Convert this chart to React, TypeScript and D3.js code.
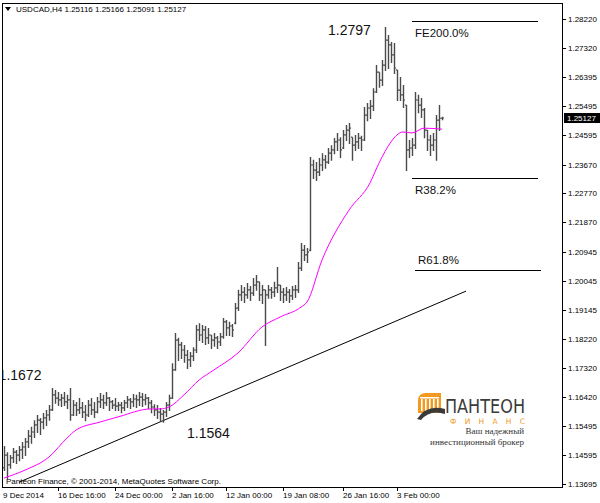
import * as d3 from "d3";

// USDCAD H4 bars (open = previous close)
const firstOpen = 1.142;
const highs = [
  1.1488, 1.1469, 1.146, 1.1482, 1.1476, 1.1488, 1.1501, 1.1513, 1.1538, 1.1548,
  1.1569, 1.1585, 1.1576, 1.1591, 1.1601, 1.1616, 1.1669, 1.1663, 1.1657, 1.1651,
  1.1657, 1.1648, 1.1669, 1.1632, 1.1626, 1.1638, 1.1626, 1.1616, 1.1632, 1.1638,
  1.1626, 1.1641, 1.1654, 1.1648, 1.1657, 1.1641, 1.1632, 1.1638, 1.1626, 1.1626,
  1.1632, 1.1644, 1.1638, 1.1651, 1.1648, 1.1657, 1.1654, 1.1651, 1.1641, 1.1632,
  1.1619, 1.1616, 1.1607, 1.1601, 1.1626, 1.1648, 1.1747, 1.1841, 1.1826, 1.1813,
  1.1804, 1.1788, 1.1782, 1.1797, 1.1866, 1.1872, 1.1866, 1.1863, 1.1857, 1.1835,
  1.1841, 1.1832, 1.1841, 1.1888, 1.1882, 1.1876, 1.1869, 1.1935, 1.1976, 1.1991,
  1.1985, 1.1997, 1.1988, 1.2013, 1.2022, 1.2001, 1.1991, 1.1976, 1.1991, 1.1985,
  1.2001, 1.2047, 1.1991, 1.1982, 1.1985, 1.1979, 1.1988, 1.1991, 1.2063, 1.2122,
  1.2116, 1.2107, 1.2391, 1.2382, 1.2375, 1.2388, 1.2403, 1.2397, 1.2419, 1.2428,
  1.245, 1.2466, 1.2453, 1.2475, 1.2491, 1.2497, 1.2453, 1.246, 1.2466, 1.2457,
  1.2547, 1.256, 1.2569, 1.2606, 1.2678, 1.2656, 1.2694, 1.2797, 1.2772, 1.275,
  1.2747, 1.2663, 1.2641, 1.2616, 1.2553, 1.2444, 1.245, 1.2594, 1.2585, 1.2575,
  1.2544, 1.2475, 1.246, 1.2466, 1.2522, 1.2553, 1.25166,
];
const lows = [
  1.1413, 1.1388, 1.142, 1.1438, 1.1435, 1.1444, 1.1451, 1.146, 1.1485, 1.1498,
  1.1516, 1.1532, 1.1526, 1.1544, 1.1554, 1.157, 1.1601, 1.1623, 1.1616, 1.1613,
  1.1616, 1.1607, 1.157, 1.1585, 1.1585, 1.1591, 1.1579, 1.1569, 1.1582, 1.1588,
  1.1579, 1.1594, 1.161, 1.1607, 1.1616, 1.1601, 1.1607, 1.1601, 1.1601, 1.1594,
  1.1601, 1.161, 1.1607, 1.1613, 1.161, 1.1616, 1.1613, 1.1619, 1.1607, 1.1594,
  1.1585, 1.1576, 1.1569, 1.1564, 1.1582, 1.1601, 1.1638, 1.1726, 1.1757, 1.1763,
  1.1751, 1.1732, 1.1738, 1.1757, 1.1782, 1.1819, 1.1813, 1.1807, 1.181, 1.1794,
  1.1801, 1.1794, 1.1804, 1.1826, 1.1835, 1.1835, 1.1832, 1.1872, 1.1913, 1.1944,
  1.1938, 1.1951, 1.1944, 1.196, 1.1976, 1.1944, 1.1935, 1.1804, 1.1951, 1.1951,
  1.1957, 1.1969, 1.1944, 1.1938, 1.1944, 1.1938, 1.1947, 1.1954, 1.1969, 1.2038,
  1.2069, 1.2063, 1.21, 1.2325, 1.2319, 1.2335, 1.235, 1.2357, 1.2372, 1.2382,
  1.2403, 1.2413, 1.2391, 1.2419, 1.2444, 1.2435, 1.2382, 1.2413, 1.2419, 1.2413,
  1.2444, 1.2506, 1.2513, 1.2538, 1.2594, 1.261, 1.2616, 1.2663, 1.2669, 1.2688,
  1.2653, 1.2569, 1.2569, 1.2547, 1.235, 1.2391, 1.2397, 1.2419, 1.2531, 1.2516,
  1.2453, 1.2413, 1.2397, 1.2413, 1.2382, 1.2475, 1.25091,
];
const closes = [
  1.146, 1.1429, 1.1451, 1.1469, 1.146, 1.1476, 1.1485, 1.1501, 1.1519, 1.1532,
  1.1554, 1.1569, 1.1563, 1.1576, 1.1585, 1.1601, 1.1648, 1.1638, 1.1632, 1.1638,
  1.1626, 1.1632, 1.1585, 1.1616, 1.1601, 1.1607, 1.1594, 1.1585, 1.1616, 1.1601,
  1.1594, 1.1626, 1.1632, 1.1623, 1.1638, 1.1626, 1.1616, 1.1613, 1.1616, 1.1607,
  1.1623, 1.1632, 1.1626, 1.1635, 1.1632, 1.1641, 1.1632, 1.1638, 1.1623, 1.161,
  1.1601, 1.1594, 1.1588, 1.1594, 1.1616, 1.1638, 1.1726, 1.1819, 1.1804, 1.1788,
  1.1772, 1.1757, 1.1769, 1.1788, 1.1851, 1.1835, 1.1851, 1.1826, 1.1835, 1.1819,
  1.1826, 1.1813, 1.1829, 1.1876, 1.1857, 1.1863, 1.1851, 1.1919, 1.196, 1.1969,
  1.196, 1.1976, 1.1966, 1.1991, 1.2001, 1.196, 1.1976, 1.196, 1.1976, 1.1969,
  1.1982, 1.1991, 1.1969, 1.196, 1.1969, 1.1957, 1.1976, 1.1976, 1.2044, 1.21,
  1.2085, 1.2094, 1.2366, 1.235, 1.2344, 1.2366, 1.2382, 1.2375, 1.2403, 1.2413,
  1.2438, 1.2444, 1.2413, 1.246, 1.2475, 1.2481, 1.2428, 1.2438, 1.245, 1.2444,
  1.2522, 1.2544, 1.255, 1.2594, 1.2656, 1.2631, 1.2678, 1.2756, 1.2741, 1.271,
  1.2669, 1.26, 1.2585, 1.2569, 1.2413, 1.2419, 1.2428, 1.2569, 1.2553, 1.2538,
  1.2475, 1.2444, 1.2428, 1.2444, 1.2506, 1.2512, 1.25127,
];

// moving average (magenta), read at a few bars
const maIndex = [0, 7, 15, 21, 24, 32, 38, 49, 52, 55, 60, 65, 70, 78, 86, 92, 99, 101, 106, 115, 122, 125, 129, 131, 133, 136, 140, 146];
const maValues = [
  1.1388, 1.1413, 1.1454, 1.1513, 1.1538, 1.1563, 1.1579, 1.1604, 1.1604, 1.161,
  1.1648, 1.1694, 1.1726, 1.1779, 1.186, 1.1891, 1.1922, 1.1938, 1.2069, 1.2225,
  1.231, 1.2372, 1.2438, 1.246, 1.2469, 1.2466, 1.2481, 1.2478,
];

// trend line anchors (bar index, price)
const trendIndex = [5, 154];
const trendPrice = [1.1375, 1.1972];

// fibonacci levels
const fibLabels = ["FE200.0%", "R38.2%", "R61.8%"];
const fibLevels = [1.2816, 1.2325, 1.2038];
const fibStart = [136, 136, 137];
const fibEnd = [178, 178, 179];
const fibLabelBelow = [true, true, false];

// price notes
const noteText = ["1.2797", "1.1672", "1.1564"];
const noteIndex = [108, -1.8, 61];
const notePrice = [1.2797, 1.1672, 1.1564];

const priceTicks = [
  1.2822, 1.2732, 1.26395, 1.25495, 1.24595, 1.2367, 1.2277, 1.2187, 1.20945,
  1.20045, 1.19145, 1.1822, 1.1732, 1.1642, 1.15495, 1.14595, 1.13695,
];
const dateLabels = ["9 Dec 2014", "16 Dec 16:00", "24 Dec 00:00", "2 Jan 16:00", "12 Jan 00:00", "19 Jan 08:00", "26 Jan 16:00", "3 Feb 00:00"];
const dateIndex = [0, 18, 37, 56, 74, 93, 113, 131];

const W = 600;
const H = 503;
const frame = { left: 2.5, top: 3.5, right: 562.5, bottom: 487.5 };
const font = "'Liberation Sans', Arial, sans-serif";

export default function App() {
  const n = closes.length;
  const x = d3.scaleLinear().domain([0, n - 1]).range([4, 4 + 3 * (n - 1)]);
  const y = d3.scaleLinear().domain([1.13695, 1.2822]).range([484, 19]);

  const maLine = d3
    .line<number>()
    .x((_, i) => x(maIndex[i]))
    .y((d) => y(d))
    .curve(d3.curveMonotoneX);

  const last = closes[n - 1];

  return (
    <svg width={W} height={H} style={{ position: "absolute", left: 0, top: 0, display: "block" }}>
      <defs>
        <clipPath id="plot">
          <rect x={frame.left} y={frame.top} width={frame.right - frame.left} height={frame.bottom - frame.top} />
        </clipPath>
      </defs>
      <rect width={W} height={H} fill="#fff" />
      <rect
        x={frame.left}
        y={frame.top}
        width={frame.right - frame.left}
        height={frame.bottom - frame.top}
        fill="#fff"
        stroke="#000"
      />

      <g clipPath="url(#plot)">
        {/* logo */}
        <g>
          <path d="M418,413 L418,401 Q418,393 426,393 L441,393 L441,413 Z" fill="#F29A1F" />
          {[421, 425, 429, 433, 437].map((cx) => (
            <rect key={cx} x={cx} y={399} width={1.6} height={12} fill="#fff" />
          ))}
          <rect x={420} y={397} width={19} height={1.5} fill="#fff" />
          <path d="M417,419 Q427,404 445,409 L445,414 Q430,409 421,420 Z" fill="#3a3a3a" />
          <text x={445} y={413} fontFamily="'DejaVu Sans', sans-serif" fontSize={19} fill="#3b3b3b" textLength={80} lengthAdjust="spacingAndGlyphs">
            ПАНТЕОН
          </text>
          <text x={450} y={424} fontFamily="'DejaVu Sans', sans-serif" fontSize={7.5} fill="#F29A1F" textLength={75} lengthAdjust="spacing">
            ФИНАНС
          </text>
          <text x={524} y={434} textAnchor="end" fontFamily="'Liberation Serif', serif" fontSize={9} fill="#333">
            Ваш надежный
          </text>
          <text x={524} y={444.5} textAnchor="end" fontFamily="'Liberation Serif', serif" fontSize={9} fill="#333">
            инвестиционный брокер
          </text>
        </g>

        {/* trend line */}
        <line
          x1={x(trendIndex[0])}
          y1={y(trendPrice[0])}
          x2={x(trendIndex[1])}
          y2={y(trendPrice[1])}
          stroke="#000"
          strokeWidth={1}
        />

        {/* bars */}
        <g stroke="#4a4a4a" strokeWidth={1.4}>
          {closes.map((c, i) => {
            const cx = x(i) + 0.5;
            const prev = i === 0 ? firstOpen : closes[i - 1];
            const o = Math.max(lows[i], Math.min(highs[i], prev));
            return (
              <g key={i}>
                <line x1={cx} x2={cx} y1={y(highs[i])} y2={y(lows[i]) + 1} />
                <line x1={cx - 1.5} x2={cx} y1={y(o)} y2={y(o)} strokeWidth={1.2} />
                <line x1={cx} x2={cx + 1.5} y1={y(c)} y2={y(c)} strokeWidth={1.2} />
              </g>
            );
          })}
        </g>

        {/* moving average */}
        <path d={maLine(maValues) ?? ""} fill="none" stroke="#FF00FF" strokeWidth={1} />

        {/* fibonacci */}
        {fibLevels.map((lv, i) => (
          <g key={fibLabels[i]}>
            <line
              x1={x(fibStart[i])}
              x2={x(fibEnd[i])}
              y1={Math.round(y(lv)) + 0.5}
              y2={Math.round(y(lv)) + 0.5}
              stroke="#000"
            />
            <text
              x={x(fibStart[i]) + 3}
              y={y(lv) + (fibLabelBelow[i] ? 16 : -6)}
              fontFamily={font}
              fontSize={11.5}
              fill="#111"
            >
              {fibLabels[i]}
            </text>
          </g>
        ))}

        {/* price notes */}
        {noteText.map((t, i) => (
          <text
            key={t}
            x={x(noteIndex[i])}
            y={y(notePrice[i]) + (i === 0 ? 8 : i === 1 ? -7 : 16)}
            fontFamily={font}
            fontSize={14}
            fill="#111"
          >
            {t}
          </text>
        ))}

        {/* header */}
        <path d="M5,7 L11,7 L8,11 Z" fill="#000" />
        <text x={16} y={12} fontFamily={font} fontSize={8} fill="#000">
          USDCAD,H4  1.25116 1.25166 1.25091 1.25127
        </text>
        <text x={6} y={484} fontFamily={font} fontSize={8} fill="#000">
          Panteon Finance, © 2001-2014, MetaQuotes Software Corp.
        </text>
      </g>

      {/* price axis */}
      <g fontFamily={font} fontSize={8} fill="#000">
        {priceTicks.map((v) => (
          <g key={v}>
            <line x1={563} x2={566} y1={Math.round(y(v)) + 0.5} y2={Math.round(y(v)) + 0.5} stroke="#000" />
            <text x={568} y={y(v) + 3}>
              {v.toFixed(5)}
            </text>
          </g>
        ))}
        <rect x={564} y={y(last) - 5} width={36} height={10} fill="#000" />
        <text x={567} y={y(last) + 3} fill="#fff">
          {last.toFixed(5)}
        </text>
      </g>

      {/* time axis */}
      <g fontFamily={font} fontSize={8} fill="#000">
        {dateIndex.map((di, i) => (
          <g key={di}>
            {i > 0 && (
              <line x1={Math.round(x(di)) + 0.5} x2={Math.round(x(di)) + 0.5} y1={487} y2={491} stroke="#000" />
            )}
            <text x={i === 0 ? 3 : x(di)} y={498}>
              {dateLabels[i]}
            </text>
          </g>
        ))}
      </g>
    </svg>
  );
}
